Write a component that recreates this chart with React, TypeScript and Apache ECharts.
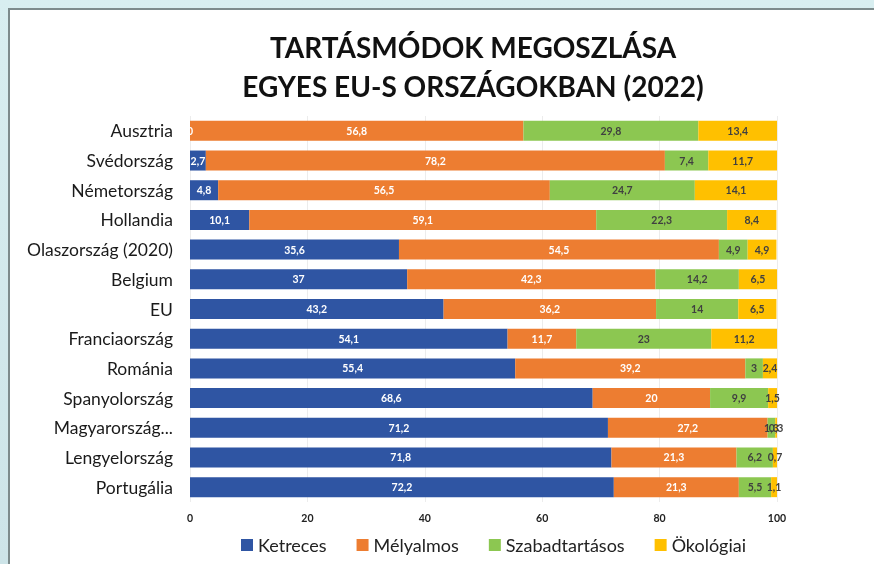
import React, { useEffect, useRef } from "react";
import * as echarts from "echarts";

const categories = [
  "Ausztria",
  "Svédország",
  "Németország",
  "Hollandia",
  "Olaszország (2020)",
  "Belgium",
  "EU",
  "Franciaország",
  "Románia",
  "Spanyolország",
  "Magyarország...",
  "Lengyelország",
  "Portugália",
];
const ketreces = [0, 2.7, 4.8, 10.1, 35.6, 37, 43.2, 54.1, 55.4, 68.6, 71.2, 71.8, 72.2];
const melyalmos = [56.8, 78.2, 56.5, 59.1, 54.5, 42.3, 36.2, 11.7, 39.2, 20, 27.2, 21.3, 21.3];
const szabadtartasos = [29.8, 7.4, 24.7, 22.3, 4.9, 14.2, 14, 23, 3, 9.9, 1.3, 6.2, 5.5];
const okologiai = [13.4, 11.7, 14.1, 8.4, 4.9, 6.5, 6.5, 11.2, 2.4, 1.5, 0.3, 0.7, 1.1];
const seriesNames = ["Ketreces", "Mélyalmos", "Szabadtartásos", "Ökológiai"];
const titleLines = ["TARTÁSMÓDOK MEGOSZLÁSA", "EGYES EU-S ORSZÁGOKBAN (2022)"];

const FONT = "Lato, 'Open Sans', sans-serif";

export default function App() {
  const ref = useRef<HTMLDivElement>(null);
  useEffect(() => {
    if (!ref.current) return;
    const chart = echarts.init(ref.current, null, { renderer: "svg" });
    const fmt = (p: any) => String(p.value).replace(".", ",");
    const mk = (name: string, data: number[], color: string, labelColor: string) => ({
      name,
      type: "bar",
      stack: "total",
      data,
      barWidth: 20,
      itemStyle: { color },
      label: {
        show: true,
        position: "inside",
        formatter: fmt,
        color: labelColor,
        fontSize: 10.5,
        fontWeight: "bold",
        fontFamily: FONT,
      },
    });
    chart.setOption({
      animation: false,
      backgroundColor: "transparent",
      graphic: [
        {
          type: "rect",
          z: -10,
          shape: { x: 0, y: 0, width: 874, height: 564 },
          style: {
            fill: new echarts.graphic.LinearGradient(0, 0, 0, 1, [
              { offset: 0, color: "#d8eef0" },
              { offset: 1, color: "#cde4e8" },
            ]),
          },
        },
        {
          type: "rect",
          z: -9,
          shape: { x: 9, y: 9, width: 880, height: 558 },
          style: { fill: "#ffffff", stroke: "#7d8b8c", lineWidth: 2 },
        },
        {
          type: "text",
          x: 473,
          y: 47,
          style: {
            text: titleLines[0],
            fontSize: 28,
            fontWeight: "bold",
            fontFamily: FONT,
            fill: "#111111",
            textAlign: "center",
            textVerticalAlign: "middle",
          },
        },
        {
          type: "text",
          x: 473,
          y: 86,
          style: {
            text: titleLines[1],
            fontSize: 28,
            fontWeight: "bold",
            fontFamily: FONT,
            fill: "#111111",
            textAlign: "center",
            textVerticalAlign: "middle",
          },
        },
      ],
      legend: {
        data: seriesNames,
        left: 236,
        top: 531,
        itemWidth: 12,
        itemHeight: 12,
        itemGap: 30,
        icon: "rect",
        textStyle: { fontSize: 18, color: "#222222", fontFamily: FONT },
      },
      grid: { left: 190, right: 97, top: 116, bottom: 62 },
      xAxis: {
        type: "value",
        min: 0,
        max: 100,
        interval: 20,
        axisLine: { show: false },
        axisTick: { show: false },
        splitLine: { show: true, lineStyle: { color: "#ececec", width: 1 } },
        axisLabel: {
          fontSize: 10.5,
          fontWeight: "bold",
          color: "#222222",
          fontFamily: FONT,
          margin: 10,
        },
      },
      yAxis: {
        type: "category",
        data: categories,
        inverse: true,
        axisLine: { show: false },
        axisTick: { show: false },
        axisLabel: { fontSize: 17.5, color: "#1a1a1a", fontFamily: FONT, margin: 17 },
      },
      series: [
        mk(seriesNames[0], ketreces, "#2f55a3", "#ffffff"),
        mk(seriesNames[1], melyalmos, "#ed7d31", "#ffffff"),
        mk(seriesNames[2], szabadtartasos, "#8cc751", "#404040"),
        mk(seriesNames[3], okologiai, "#ffc000", "#404040"),
      ],
    });
    return () => chart.dispose();
  }, []);
  return (
    <div
      ref={ref}
      style={{ position: "fixed", left: 0, top: 0, width: 874, height: 564 }}
    />
  );
}
